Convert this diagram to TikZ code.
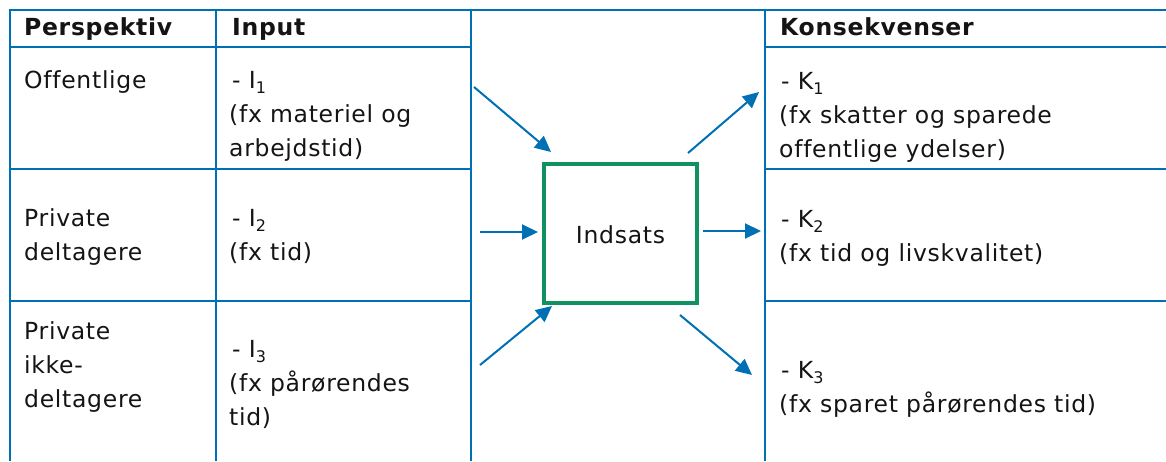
\documentclass[tikz,border=0pt]{standalone}
\usepackage{fontspec}
\setmainfont{DejaVu Sans}[LetterSpace=3, Ligatures=CommonOff]
\usetikzlibrary{arrows.meta}
\definecolor{gridblue}{RGB}{0,112,180}
\definecolor{boxgreen}{RGB}{16,145,95}
\newcommand{\sbs}[1]{\raisebox{-0.25em}{\fontsize{16}{16}\selectfont #1}}
\tikzset{
  grid/.style={draw=gridblue, line width=2.6pt},
  txt/.style={anchor=base west, inner sep=0pt, font=\fontsize{23.5}{34}\selectfont, text=black!92},
  hdr/.style={txt, font=\fontsize{23.5}{34}\selectfont\bfseries},
  flow/.style={draw=gridblue, line width=2pt, -{Triangle[length=16pt,width=15pt]}},
  midbox/.style={draw=boxgreen, line width=4.5pt, minimum width=153pt, minimum height=139pt, inner sep=0pt}
}
\begin{document}
\begin{tikzpicture}[x=1pt,y=-1pt]
\useasboundingbox (0,0) rectangle (1166,461);
% grid
\draw[grid] (8.7,10) -- (1166,10);
\draw[grid] (10,8.7) -- (10,461);
\draw[grid] (216,8.7) -- (216,461);
\draw[grid] (471,8.7) -- (471,461);
\draw[grid] (765,8.7) -- (765,461);
\foreach \yy in {47,169,301}{
  \draw[grid] (8.7,\yy) -- (471,\yy);
  \draw[grid] (765,\yy) -- (1166,\yy);
}
% headers
\node[hdr] (h1) at (24,35) {Perspektiv};
\node[hdr] (h2) at (232,35) {Input};
\node[hdr] (h3) at (780,35) {Konsekvenser};
% row 1
\node[txt] (p1) at (24,88) {Offentlige};
\node[txt] (i1a) at (232,88) {- I\sbs{1}};
\node[txt] (i1b) at (229,122) {(fx materiel og};
\node[txt] (i1c) at (229,156) {arbejdstid)};
\node[txt] (k1a) at (781,89) {- K\sbs{1}};
\node[txt] (k1b) at (779,123) {(fx skatter og sparede};
\node[txt] (k1c) at (779,157) {offentlige ydelser)};
% row 2
\node[txt] (p2a) at (24,226) {Private};
\node[txt] (p2b) at (24,260) {deltagere};
\node[txt] (i2a) at (232,226) {- I\sbs{2}};
\node[txt] (i2b) at (229,260) {(fx tid)};
\node[txt] (k2a) at (781,227) {- K\sbs{2}};
\node[txt] (k2b) at (779,261) {(fx tid og livskvalitet)};
% row 3
\node[txt] (p3a) at (24,339) {Private};
\node[txt] (p3b) at (24,373) {ikke-};
\node[txt] (p3c) at (24,407) {deltagere};
\node[txt] (i3a) at (232,357) {- I\sbs{3}};
\node[txt] (i3b) at (229,391) {(fx pårørendes};
\node[txt] (i3c) at (229,425) {tid)};
\node[txt] (k3a) at (781,378) {- K\sbs{3}};
\node[txt] (k3b) at (779,412) {(fx sparet pårørendes tid)};
% central box
\node[midbox] (box) at (620.5,233.5) {};
\node[anchor=base, inner sep=0pt, font=\fontsize{23.5}{34}\selectfont, text=black!92] (lbl) at (620.5,243) {Indsats};
% arrow endpoints
\coordinate (a1s) at (474,87);   \coordinate (a1e) at (551,152);
\coordinate (a2s) at (480,232);  \coordinate (a2e) at (538,232);
\coordinate (a3s) at (480,365);  \coordinate (a3e) at (552,306);
\coordinate (b1s) at (688,153);  \coordinate (b1e) at (759,92);
\coordinate (b2s) at (703,231);  \coordinate (b2e) at (761,231);
\coordinate (b3s) at (680,315);  \coordinate (b3e) at (752,375);
\draw[flow] (a1s) -- (a1e);
\draw[flow] (a2s) -- (a2e);
\draw[flow] (a3s) -- (a3e);
\draw[flow] (b1s) -- (b1e);
\draw[flow] (b2s) -- (b2e);
\draw[flow] (b3s) -- (b3e);
\end{tikzpicture}
\end{document}
